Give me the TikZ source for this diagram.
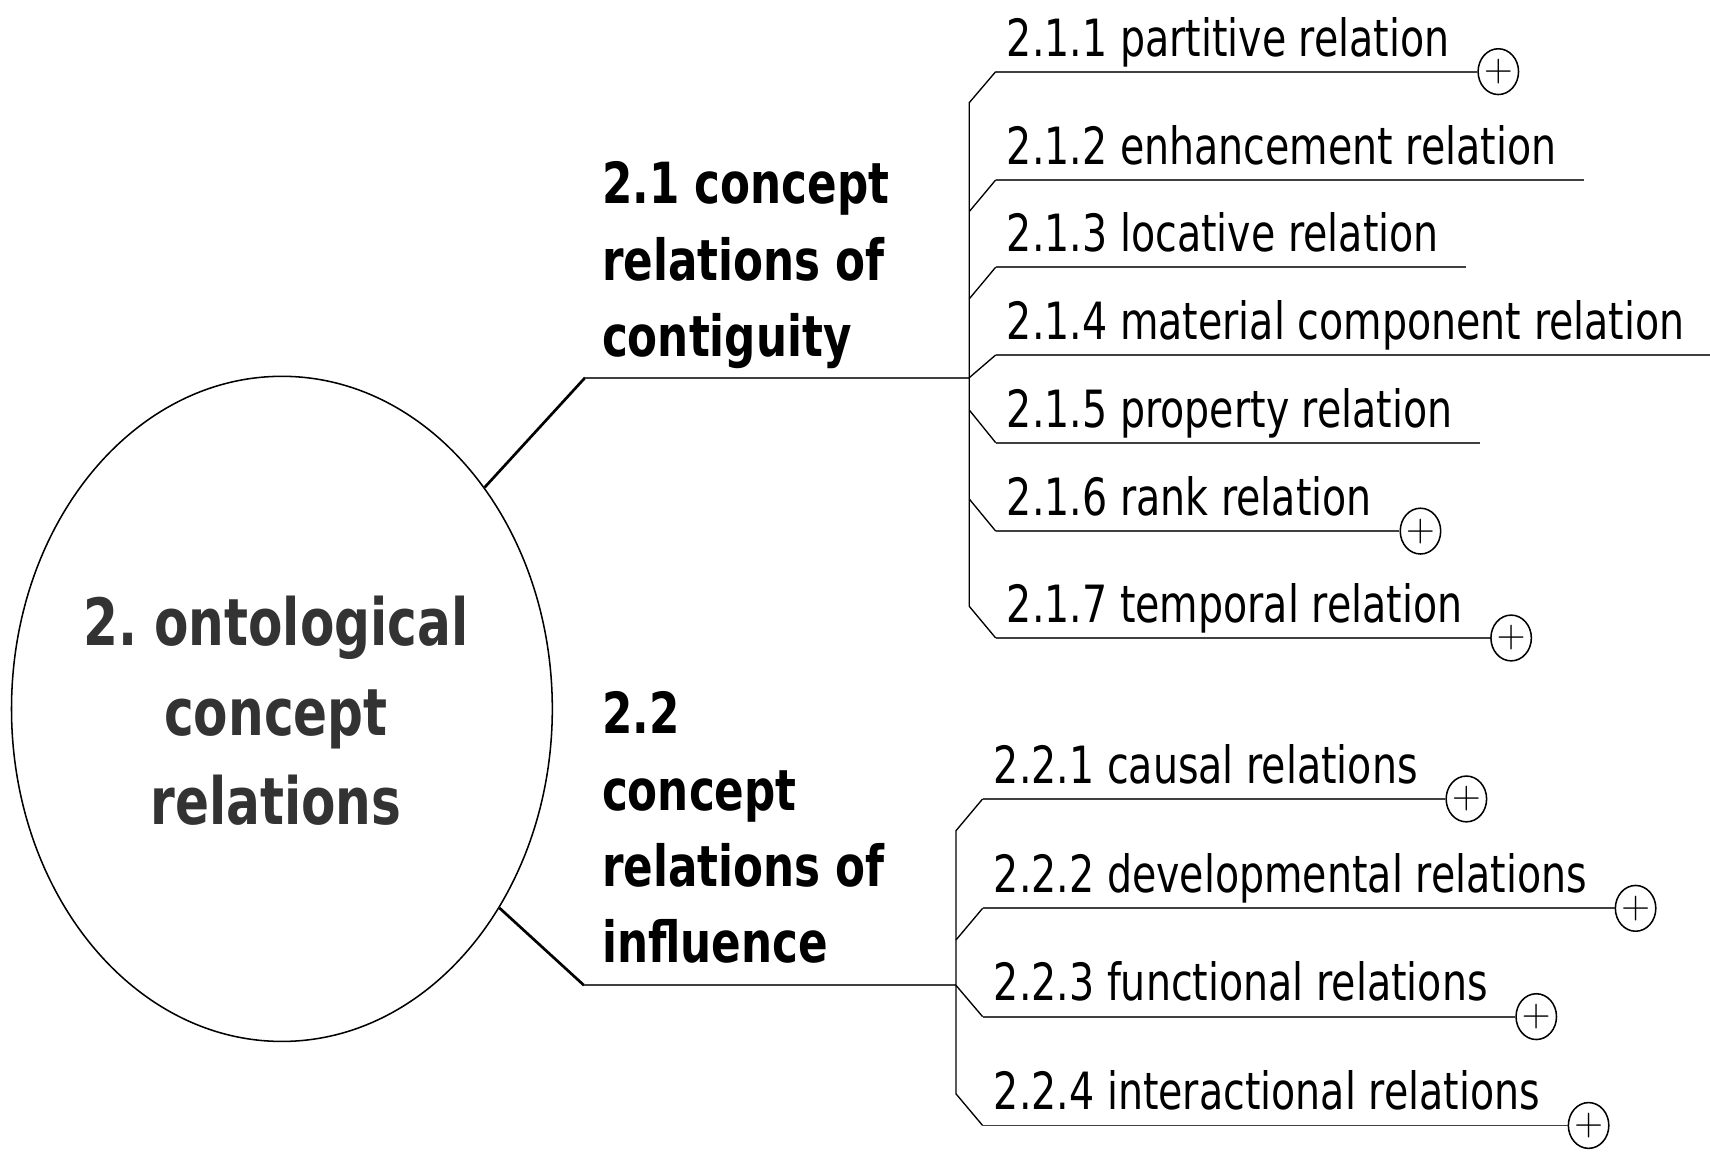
\documentclass[tikz,border=0pt]{standalone}
\usepackage{fontspec}
\setmainfont{DejaVu Sans}[FakeStretch=0.77]
\usetikzlibrary{shapes.geometric}

\begin{document}
\begin{tikzpicture}[x=0.02cm,y=-0.02cm,
    leaf/.style={anchor=south west,inner xsep=0.2cm,inner ysep=0pt,text depth=0.28cm,
      font=\fontsize{26.8}{30}\selectfont},
    branch/.style={anchor=north west,inner sep=0pt,align=left,
      font=\bfseries\fontsize{29.6}{39.8}\selectfont},
    plus/.style={ellipse,draw,line width=0.8pt,minimum width=0.68cm,minimum height=0.84cm,
      inner sep=0pt,anchor=west,font=\fontsize{20}{20}\selectfont},
    rule/.style={line width=1pt,black!75},
    twig/.style={line width=0.7pt},
    stem/.style={line width=1.4pt}]
  \useasboundingbox (0,0) rectangle (1568,1058);

  % centre topic
  \node[ellipse,draw,line width=0.8pt,minimum width=9.92cm,minimum height=12.2cm,inner sep=0pt] (root) at (258.5,650) {};
  \node[align=center,inner sep=0pt,text=black!80,font=\bfseries\fontsize{34}{46.7}\selectfont] (topic) at (253,652)
    {2.\hspace{-0.1em} ontological\\concept\\relations};

  % the two main branches
  \coordinate (k1) at (536.5,346.3);
  \coordinate (j1) at (888.8,346.3);
  \coordinate (k2) at (535.5,903.5);
  \coordinate (j2) at (876.6,903.5);
  \draw[stem] (root) -- (k1);
  \draw[rule] (k1) -- (j1);
  \draw[stem] (root) -- (k2);
  \draw[rule] (k2) -- (j2);
  \node[branch] (c1) at (551.7,148) {2.1 concept\\relations of\\contiguity};
  \node[branch] (c2) at (551.7,634) {2.2\\concept\\relations of\\influence};

  % 2.1 subtopics
  \node[leaf] (a1) at (913,65.7) {2.1.1 partitive relation};
  \node[leaf] (a2) at (913,165) {2.1.2 enhancement relation};
  \node[leaf] (a3) at (913,245) {2.1.3 locative relation};
  \node[leaf] (a4) at (913,325.5) {2.1.4 material component relation};
  \node[leaf] (a5) at (913,405.9) {2.1.5 property relation};
  \node[leaf] (a6) at (913,487) {2.1.6 rank relation};
  \node[leaf] (a7) at (913,585) {2.1.7 temporal relation};
  \node[plus] (p1) at ([xshift=0.3cm]a1.south east) {$+$};
  \node[plus] (p6) at ([xshift=0.3cm]a6.south east) {$+$};
  \node[plus] (p7) at ([xshift=0.3cm]a7.south east) {$+$};
  \draw[rule] (a1.south west) -- (p1);
  \draw[rule] (a2.south west) -- ([xshift=0.3cm]a2.south east);
  \draw[rule] (a3.south west) -- ([xshift=0.3cm]a3.south east);
  \draw[rule] (a4.south west) -- ([xshift=0.3cm]a4.south east);
  \draw[rule] (a5.south west) -- ([xshift=0.3cm]a5.south east);
  \draw[rule] (a6.south west) -- (p6);
  \draw[rule] (a7.south west) -- (p7);

  \coordinate (t1) at (888.8,94.1);
  \coordinate (t2) at (888.8,194);
  \coordinate (t3) at (888.8,274);
  \coordinate (t5) at (888.8,376);
  \coordinate (t6) at (888.8,457.6);
  \coordinate (t7) at (888.8,556);
  \draw[twig] (a1.south west) -- (t1) -- (t7) -- (a7.south west);
  \draw[twig] (a2.south west) -- (t2);
  \draw[twig] (a3.south west) -- (t3);
  \draw[twig] (a4.south west) -- (j1);
  \draw[twig] (a5.south west) -- (t5);
  \draw[twig] (a6.south west) -- (t6);

  % 2.2 subtopics
  \node[leaf] (b1) at (901,732.6) {2.2.1 causal relations};
  \node[leaf] (b2) at (901,832.9) {2.2.2 developmental relations};
  \node[leaf] (b3) at (901,932.2) {2.2.3 functional relations};
  \node[leaf] (b4) at (901,1032) {2.2.4 interactional relations};
  \node[plus] (q1) at ([xshift=0.3cm]b1.south east) {$+$};
  \node[plus] (q2) at ([xshift=0.3cm]b2.south east) {$+$};
  \node[plus] (q3) at ([xshift=0.3cm]b3.south east) {$+$};
  \node[plus] (q4) at ([xshift=0.3cm]b4.south east) {$+$};
  \draw[rule] (b1.south west) -- (q1);
  \draw[rule] (b2.south west) -- (q2);
  \draw[rule] (b3.south west) -- (q3);
  \draw[rule] (b4.south west) -- (q4);

  \coordinate (s1) at (876.6,761.7);
  \coordinate (s2) at (876.6,861.9);
  \coordinate (s4) at (876.6,1003);
  \draw[twig] (b1.south west) -- (s1) -- (s4) -- (b4.south west);
  \draw[twig] (b2.south west) -- (s2);
  \draw[twig] (b3.south west) -- (j2);
\end{tikzpicture}
\end{document}
